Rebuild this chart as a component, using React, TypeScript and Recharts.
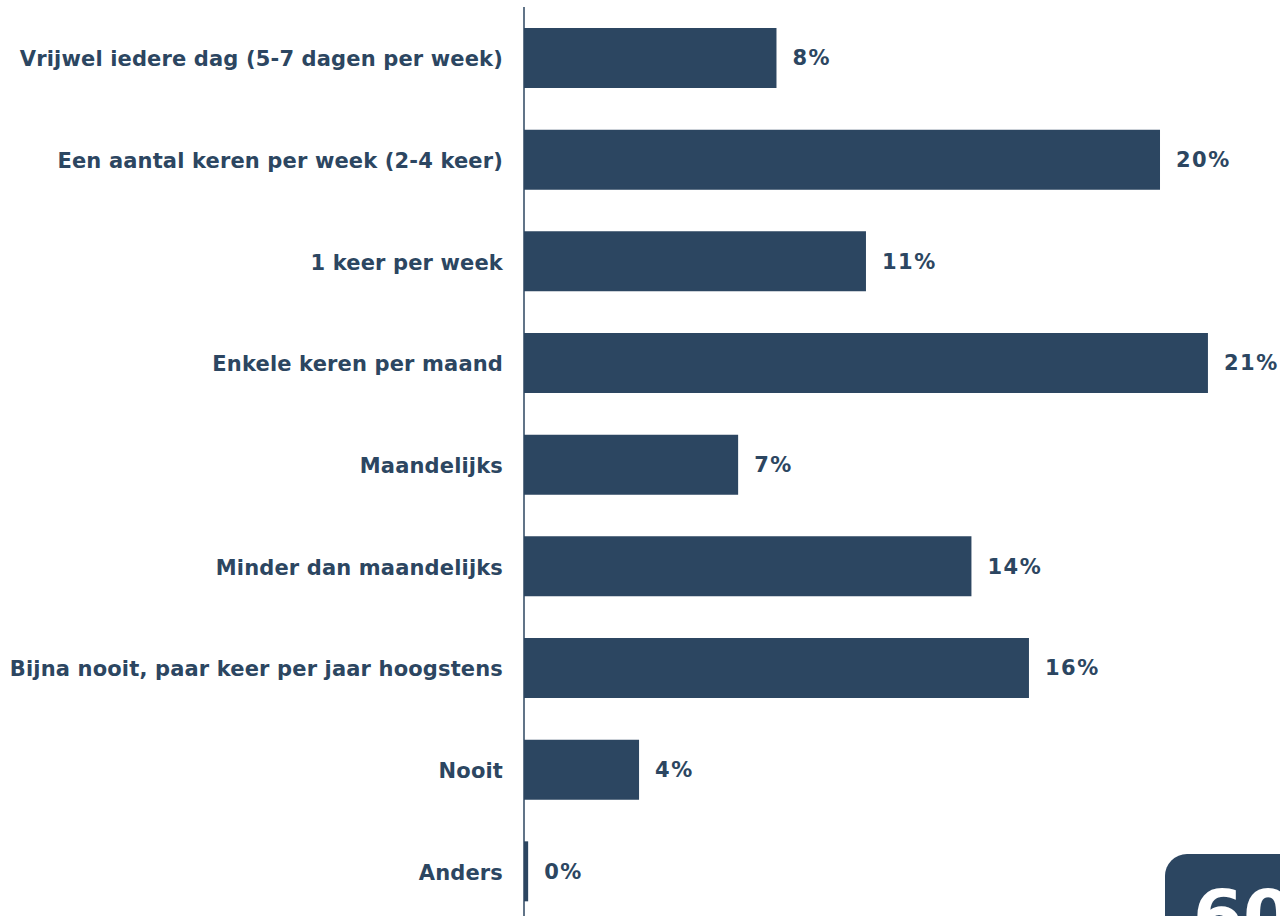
import { BarChart, Bar, XAxis, YAxis, LabelList } from "recharts";

const categories = [
  "Vrijwel iedere dag (5-7 dagen per week)",
  "Een aantal keren per week (2-4 keer)",
  "1 keer per week",
  "Enkele keren per maand",
  "Maandelijks",
  "Minder dan maandelijks",
  "Bijna nooit, paar keer per jaar hoogstens",
  "Nooit",
  "Anders",
];
const shares = [7.9, 19.9, 10.7, 21.4, 6.7, 14.0, 15.8, 3.6, 0.13];
const pageNumber = "60";

const data = categories.map((name, i) => ({ name, value: shares[i] }));

const navy = "#2c4661";
const font = "Verdana, 'DejaVu Sans', sans-serif";

export default function App() {
  return (
    <div style={{ position: "absolute", left: 0, top: 0, width: 1280, height: 916, overflow: "hidden", background: "#fff" }}>
      <BarChart
        width={1330}
        height={930}
        data={data}
        layout="vertical"
        margin={{ top: 7, right: 7, bottom: 8, left: 0 }}
        barCategoryGap={21}
      >
        <XAxis type="number" domain={[0, 25]} hide />
        <YAxis
          type="category"
          dataKey="name"
          width={524}
          tickLine={false}
          tickSize={0}
          tickMargin={21}
          axisLine={{ stroke: navy, strokeWidth: 1.5 }}
          tick={{ fill: navy, fontSize: 21, fontWeight: 700, fontFamily: font, letterSpacing: 0.15, dy: 1 }}
          interval={0}
        />
        <Bar dataKey="value" fill={navy} barSize={60} isAnimationActive={false}>
          <LabelList
            dataKey="value"
            position="right"
            offset={16}
            formatter={(v: number) => `${Math.round(v)}%`}
            style={{ fill: navy, fontSize: 21, fontWeight: 700, fontFamily: font, letterSpacing: 1.5 }}
          />
        </Bar>
      </BarChart>
      <div
        style={{
          position: "absolute",
          left: 1165,
          top: 854,
          width: 160,
          height: 120,
          borderRadius: 22,
          background: navy,
          color: "#fff",
          fontFamily: font,
          fontWeight: 700,
          fontSize: 72,
          lineHeight: "72px",
          paddingLeft: 28,
          paddingTop: 26,
          boxSizing: "border-box",
        }}
      >
        {pageNumber}
      </div>
    </div>
  );
}
